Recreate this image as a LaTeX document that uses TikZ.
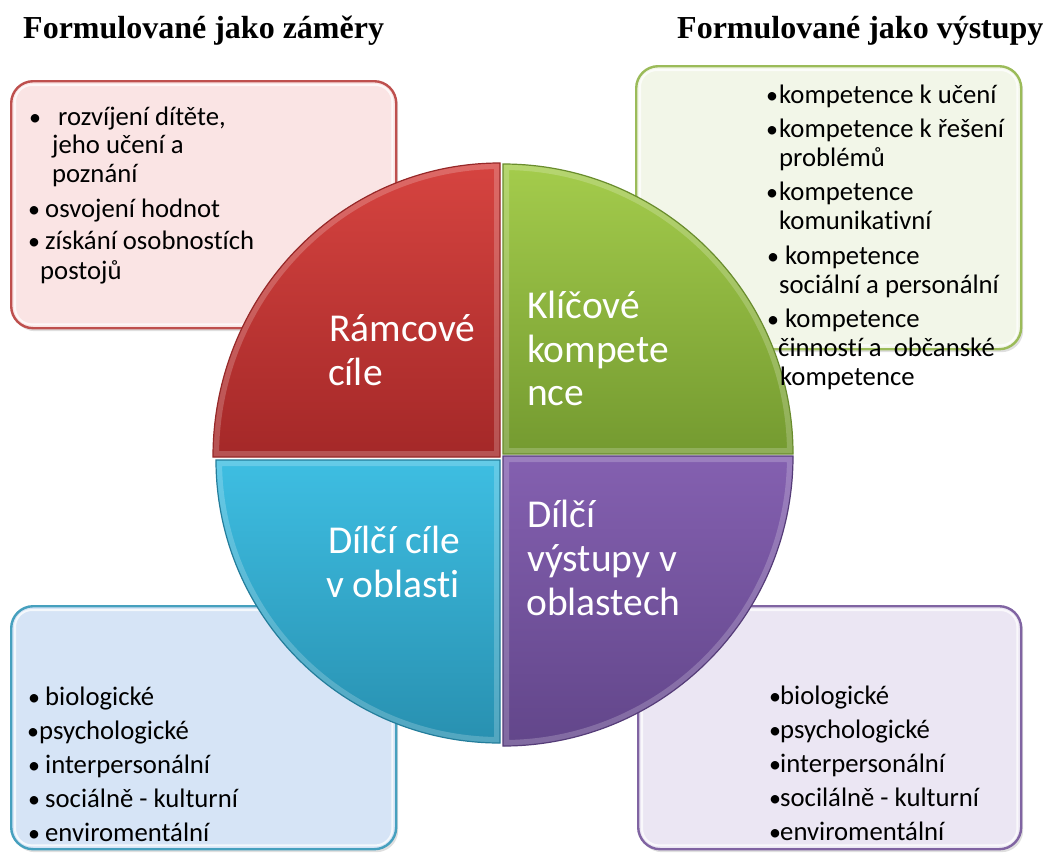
\documentclass[tikz,border=0pt]{standalone}
\usepackage{fontspec}
\setmainfont{Liberation Serif}
\newfontfamily\calib[Ligatures={NoCommon,NoContextual}]{Carlito}
\usetikzlibrary{shadows}
\definecolor{redA}{RGB}{214,68,64}
\definecolor{redB}{RGB}{164,40,40}
\definecolor{redE}{RGB}{150,40,40}
\definecolor{grnA}{RGB}{164,204,76}
\definecolor{grnB}{RGB}{116,154,48}
\definecolor{grnE}{RGB}{105,140,45}
\definecolor{bluA}{RGB}{62,190,226}
\definecolor{bluB}{RGB}{40,144,176}
\definecolor{bluE}{RGB}{35,125,155}
\definecolor{purA}{RGB}{132,96,176}
\definecolor{purB}{RGB}{98,70,138}
\definecolor{purE}{RGB}{85,60,120}
\definecolor{rboxF}{RGB}{250,228,228}
\definecolor{rboxD}{RGB}{190,80,78}
\definecolor{gboxF}{RGB}{242,246,232}
\definecolor{gboxD}{RGB}{155,187,89}
\definecolor{bboxF}{RGB}{214,228,246}
\definecolor{bboxD}{RGB}{70,160,190}
\definecolor{pboxF}{RGB}{235,230,243}
\definecolor{pboxD}{RGB}{128,100,162}
\tikzset{
  boxshape/.style={rectangle, rounded corners=22pt, line width=2.4pt, anchor=north west,
    drop shadow={shadow xshift=2pt, shadow yshift=-3pt, opacity=.25}},
  glow/.style={white, opacity=.75, line width=2pt, rounded corners=17pt},
  bodytext/.style={anchor=base west, font=\calib\fontsize{26.7}{31}\selectfont, inner sep=0pt},
  bul/.style={anchor=base, font=\calib\fontsize{24}{31}\selectfont, inner sep=0pt},
  quadtext/.style={anchor=base west, font=\calib\fontsize{39.5}{44}\selectfont, text=white, inner sep=0pt},
  titletext/.style={anchor=base west, font=\bfseries\fontsize{32}{38}\selectfont, inner sep=0pt},
  bevel/.style={white, opacity=.2, line width=12pt},
}
\def\redq{(500,457) -- ++(-287,0) arc[start angle=180, end angle=270, x radius=287, y radius=294] -- cycle}
\def\grnq{(503,454) -- ++(0,-290) arc[start angle=270, end angle=360, x radius=290, y radius=290] -- cycle}
\def\bluq{(500,460) -- ++(-284,0) arc[start angle=180, end angle=90, x radius=284, y radius=283] -- cycle}
\def\purq{(503,456) -- ++(290,0) arc[start angle=0, end angle=90, x radius=290, y radius=290] -- cycle}
\begin{document}
\begin{tikzpicture}[x=1pt,y=-1pt]
\useasboundingbox (0,0) rectangle (1043,852);
\fill[white] (0,0) rectangle (1043,852);

% titles
\node[titletext] (t1) at (23,38) {Formulované jako záměry};
\node[titletext] (t2) at (677,38) {Formulované jako výstupy};

% boxes
\node[boxshape, draw=rboxD, fill=rboxF, minimum width=385pt, minimum height=247pt] (rbox) at (10,80) {};
\node[boxshape, draw=gboxD, fill=gboxF, minimum width=385pt, minimum height=283pt] (gbox) at (635,65) {};
\node[boxshape, draw=bboxD, fill=bboxF, minimum width=385pt, minimum height=243pt] (bbox) at (10,605) {};
\node[boxshape, draw=pboxD, fill=pboxF, minimum width=383pt, minimum height=243pt] (pbox) at (637,605) {};
\foreach \b in {rbox,gbox,bbox,pbox}{
  \draw[glow] ([shift={(5pt,-5pt)}]\b.north west) rectangle ([shift={(-5pt,5pt)}]\b.south east);
}

% quadrants
\shade[top color=redA, bottom color=redB] \redq;
\shade[top color=grnA, bottom color=grnB] \grnq;
\shade[top color=bluA, bottom color=bluB] \bluq;
\shade[top color=purA, bottom color=purB] \purq;
\begin{scope}\clip \redq; \draw[bevel] \redq; \end{scope}
\begin{scope}\clip \grnq; \draw[bevel] \grnq; \end{scope}
\begin{scope}\clip \bluq; \draw[bevel] \bluq; \end{scope}
\begin{scope}\clip \purq; \draw[bevel] \purq; \end{scope}
\draw[redE, line width=1.2pt] \redq;
\draw[grnE, line width=1.2pt] \grnq;
\draw[bluE, line width=1.2pt] \bluq;
\draw[purE, line width=1.2pt] \purq;

% quadrant labels
\node[quadtext] (q1a) at (329,341) {Rámcové};
\node[quadtext] (q1b) at (328,385) {cíle};
\node[quadtext] (q2a) at (527,318) {Klíčové};
\node[quadtext] (q2b) at (527,362) {kompete};
\node[quadtext] (q2c) at (527,405) {nce};
\node[quadtext] (q3a) at (328,553) {Dílčí cíle};
\node[quadtext] (q3b) at (326,597) {v oblasti};
\node[quadtext] (q4a) at (527,527) {Dílčí};
\node[quadtext] (q4b) at (527,571) {výstupy v};
\node[quadtext] (q4c) at (526,615) {oblastech};

% red box text
\node[bul] (rb1) at (35,125) {•};
\node[bodytext] (r1) at (58,125) {rozvíjení dítěte,};
\node[bodytext] (r2) at (52,153) {jeho učení a};
\node[bodytext] (r3) at (52,182) {poznání};
\node[bul] (rb2) at (34,217) {•};
\node[bodytext] (r4) at (45,217) {osvojení hodnot};
\node[bul] (rb3) at (34,249) {•};
\node[bodytext] (r5) at (45,249) {získání osobnostích};
\node[bodytext] (r6) at (40,279) {postojů};

% green box text
\node[bul] (gb1) at (772,103) {•};
\node[bodytext] (g1) at (779,103) {kompetence k učení};
\node[bul] (gb2) at (772,137) {•};
\node[bodytext] (g2) at (779,137) {kompetence k řešení};
\node[bodytext] (g3) at (779,166) {problémů};
\node[bul] (gb3) at (772,200) {•};
\node[bodytext] (g4) at (779,200) {kompetence};
\node[bodytext] (g5) at (779,229) {komunikativní};
\node[bul] (gb4) at (773,264) {•};
\node[bodytext] (g6) at (785,264) {kompetence};
\node[bodytext] (g7) at (779,293) {sociální a personální};
\node[bul] (gb5) at (773,327) {•};
\node[bodytext] (g8) at (785,327) {kompetence};
\node[bodytext] (g9) at (778,356) {činností a\ \ občanské};
\node[bodytext] (g10) at (780,385) {kompetence};

% blue box text
\node[bul] (bb1) at (34,705) {•};
\node[bodytext] (b1) at (45,705) {biologické};
\node[bul] (bb2) at (33,739) {•};
\node[bodytext] (b2) at (39,739) {psychologické};
\node[bul] (bb3) at (34,773) {•};
\node[bodytext] (b3) at (45,773) {interpersonální};
\node[bul] (bb4) at (34,807) {•};
\node[bodytext] (b4) at (45,807) {sociálně - kulturní};
\node[bul] (bb5) at (34,841) {•};
\node[bodytext] (b5) at (45,841) {enviromentální};

% purple box text
\node[bul] (pb1) at (775,704) {•};
\node[bodytext] (p1) at (780,704) {biologické};
\node[bul] (pb2) at (775,738) {•};
\node[bodytext] (p2) at (780,738) {psychologické};
\node[bul] (pb3) at (775,772) {•};
\node[bodytext] (p3) at (780,772) {interpersonální};
\node[bul] (pb4) at (775,806) {•};
\node[bodytext] (p4) at (780,806) {socilálně - kulturní};
\node[bul] (pb5) at (775,840) {•};
\node[bodytext] (p5) at (780,840) {enviromentální};
\end{tikzpicture}
\end{document}
